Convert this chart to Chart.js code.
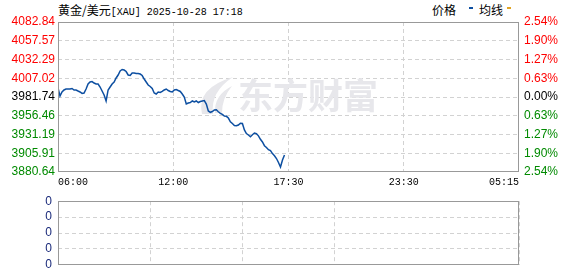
<!DOCTYPE html>
<html>
<head>
<meta charset="utf-8">
<script src="https://cdn.jsdelivr.net/npm/chart.js@4/dist/chart.umd.min.js"></script>
<style>
  body { margin: 0; background: #fff; width: 578px; height: 276px; overflow: hidden; position: relative; }
  canvas { position: absolute; left: 0; }
  #title { position: absolute; left: 58px; top: 1px; line-height: 14px; white-space: nowrap; color: #000; }
  .cn { font: 12px "Noto Sans CJK SC"; }
  .en { font: 10px "Liberation Mono"; }
  #legend { position: absolute; left: 432px; top: 1px; line-height: 14px; font: 12px "Noto Sans CJK SC"; white-space: nowrap; }
  .mark { position: absolute; top: 6px; width: 4px; height: 2px; }
</style>
</head>
<body>
<div id="title"><span class="cn">黄金/美元</span><span class="en">[XAU] 2025-10-28 17:18</span></div>
<div id="legend">价格<span class="mark" style="left:37px;background:#0d4fa1"></span><span style="position:absolute;left:47px">均线</span><span class="mark" style="left:75px;background:#e0a424"></span></div>
<canvas id="main" width="578" height="190" style="top:0"></canvas>
<canvas id="vol" width="578" height="90" style="top:188px"></canvas>
<script>
// price axis (left) and change axis (right) labels, top to bottom
const priceLabels = ["4082.84", "4057.57", "4032.29", "4007.02", "3981.74", "3956.46", "3931.19", "3905.91", "3880.64"];
const pctLabels = ["2.54%", "1.90%", "1.27%", "0.63%", "0.00%", "0.63%", "1.27%", "1.90%", "2.54%"];
const prevClose = 3981.74;

// time axis: slots across the whole session, labels at quarter points
const totalSlots = 230;
const timeTicks = [0, 57.5, 115, 172.5, 230];
const timeLabels = ["06:00", "12:00", "17:30", "23:30", "05:15"];

// price per slot (session so far, up to 17:18)
const prices = [
  3993.9, 3983.1, 3988.5, 3991.2, 3992.5, 3992.5, 3992.5, 3993.2, 3991.2, 3991.2,
  3989.8, 3988.5, 3986.5, 3987.1, 3992.5, 3999.3, 4002.0, 4002.6, 4000.6, 3999.3,
  3999.3, 3995.2, 3989.8, 3984.4, 3976.4, 3991.2, 3995.2, 3999.3, 4002.0, 4007.4,
  4011.4, 4016.8, 4018.8, 4018.1, 4016.1, 4011.4, 4010.7, 4014.1, 4014.1, 4013.4,
  4013.4, 4012.7, 4010.7, 4006.0, 4002.0, 3997.9, 3995.9, 3993.2, 3987.1, 3985.8,
  3988.5, 3987.8, 3989.2, 3991.2, 3992.5, 3990.5, 3989.2, 3988.5, 3991.2, 3991.9,
  3990.5, 3989.2, 3985.8, 3981.7, 3972.3, 3973.7, 3974.3, 3976.4, 3975.0, 3976.4,
  3974.3, 3975.7, 3976.4, 3977.0, 3972.3, 3962.9, 3961.1, 3962.2, 3964.2, 3964.5,
  3961.9, 3959.8, 3958.2, 3956.1, 3955.7, 3953.4, 3948.4, 3946.0, 3943.3, 3942.9,
  3944.0, 3946.3, 3946.0, 3937.3, 3932.5, 3930.5, 3928.2, 3930.9, 3933.2, 3932.3,
  3929.4, 3924.7, 3921.1, 3916.1, 3913.7, 3910.7, 3909.4, 3905.4, 3902.6, 3898.8,
  3893.5, 3887.4, 3896.8, 3903.6
];

// volume panel: no volume for this instrument
const volumes = [];
const volLabels = ["0", "0", "0", "0", "0"];

const priceTicks = priceLabels.map(Number);
const gridColor = "#d2d2d2";
const dash = [4, 3];

function levelColor(v) {
  if (Math.abs(v - prevClose) < 0.005) return "#000";
  return v > prevClose ? "#ff0000" : "#008a00";
}

// solid frame round the plot area
const frame = {
  id: "frame",
  afterDraw(chart) {
    const { ctx, chartArea: a } = chart;
    ctx.save();
    ctx.strokeStyle = "#999";
    ctx.lineWidth = 1;
    ctx.strokeRect(Math.round(a.left) + 0.5, Math.round(a.top) + 0.5,
      Math.round(a.right - a.left) - 1, Math.round(a.bottom - a.top) - 1);
    ctx.restore();
  }
};

// faint brand watermark behind the line
const watermark = {
  id: "watermark",
  beforeDatasetsDraw(chart) {
    const ctx = chart.ctx;
    ctx.save();
    ctx.fillStyle = "#e7e7eb";
    ctx.beginPath();
    ctx.moveTo(202, 114);
    ctx.quadraticCurveTo(196, 88, 233, 77);
    ctx.quadraticCurveTo(210, 92, 213, 114);
    ctx.closePath();
    ctx.fill();
    ctx.beginPath();
    ctx.moveTo(215, 113);
    ctx.quadraticCurveTo(214, 95, 232, 86);
    ctx.quadraticCurveTo(222, 98, 222, 113);
    ctx.closePath();
    ctx.fill();
    ctx.font = 'bold 35px "Noto Sans CJK SC"';
    ctx.textAlign = "center";
    ctx.textBaseline = "middle";
    ctx.fillText("东方财富", 308, 96);
    ctx.restore();
  }
};

const edgeless = (ticks) => (c) => (c.index === 0 || c.index === ticks.length - 1) ? "rgba(0,0,0,0)" : gridColor;

new Chart(document.getElementById("main"), {
  type: "line",
  data: {
    datasets: [{
      label: "价格",
      data: prices.map((p, i) => ({ x: i, y: p })),
      borderColor: "#0d4fa1",
      borderWidth: 1.5,
      pointRadius: 0,
      tension: 0,
      yAxisID: "y"
    }]
  },
  options: {
    responsive: false,
    animation: false,
    layout: { padding: { top: 22 } },
    plugins: { legend: { display: false }, tooltip: { enabled: false } },
    scales: {
      x: {
        type: "linear",
        min: 0,
        max: totalSlots,
        afterBuildTicks: (s) => { s.ticks = timeTicks.map((v) => ({ value: v })); },
        afterFit: (s) => { s.height = 18; },
        ticks: {
          autoSkip: false,
          maxRotation: 0,
          align: "inner",
          padding: 4,
          color: "#000",
          font: { family: "Liberation Mono", size: 10 },
          callback: (v, i) => timeLabels[i]
        },
        grid: { color: edgeless(timeTicks), drawTicks: false },
        border: { display: false, dash: dash }
      },
      y: {
        position: "left",
        min: priceTicks[priceTicks.length - 1],
        max: priceTicks[0],
        afterBuildTicks: (s) => { s.ticks = priceTicks.slice().reverse().map((v) => ({ value: v })); },
        afterFit: (s) => { s.width = 58; },
        ticks: {
          padding: 3,
          font: { family: "Liberation Sans", size: 12 },
          color: (c) => levelColor(c.tick.value),
          callback: (v) => priceLabels[priceTicks.indexOf(v)]
        },
        grid: { color: edgeless(priceTicks), drawTicks: false },
        border: { display: false, dash: dash }
      },
      y2: {
        position: "right",
        min: priceTicks[priceTicks.length - 1],
        max: priceTicks[0],
        afterBuildTicks: (s) => { s.ticks = priceTicks.slice().reverse().map((v) => ({ value: v })); },
        afterFit: (s) => { s.width = 59; },
        ticks: {
          padding: 5,
          font: { family: "Liberation Sans", size: 12 },
          color: (c) => levelColor(c.tick.value),
          callback: (v) => pctLabels[priceTicks.indexOf(v)]
        },
        grid: { display: false, drawTicks: false },
        border: { display: false }
      }
    }
  },
  plugins: [watermark, frame]
});

new Chart(document.getElementById("vol"), {
  type: "bar",
  data: { datasets: [{ label: "成交量", data: volumes, backgroundColor: "#0d4fa1" }] },
  options: {
    responsive: false,
    animation: false,
    layout: { padding: { top: 8, bottom: 8, right: 59 } },
    plugins: { legend: { display: false }, tooltip: { enabled: false } },
    scales: {
      x: {
        type: "linear",
        min: 0,
        max: totalSlots,
        afterBuildTicks: (s) => { s.ticks = timeTicks.map((v) => ({ value: v })); },
        afterFit: (s) => { s.height = 0; },
        ticks: { display: false },
        grid: { color: edgeless(timeTicks), drawTicks: false },
        border: { display: false, dash: dash }
      },
      y: {
        min: 0,
        max: volLabels.length - 1,
        afterBuildTicks: (s) => { s.ticks = volLabels.map((t, i) => ({ value: i })); },
        afterFit: (s) => { s.width = 58; },
        ticks: {
          padding: 6,
          color: "#1a2a7a",
          font: { family: "Liberation Sans", size: 12 },
          callback: (v, i) => volLabels[i]
        },
        grid: { color: edgeless(volLabels), drawTicks: false },
        border: { display: false, dash: dash }
      }
    }
  },
  plugins: [frame]
});
</script>
</body>
</html>
